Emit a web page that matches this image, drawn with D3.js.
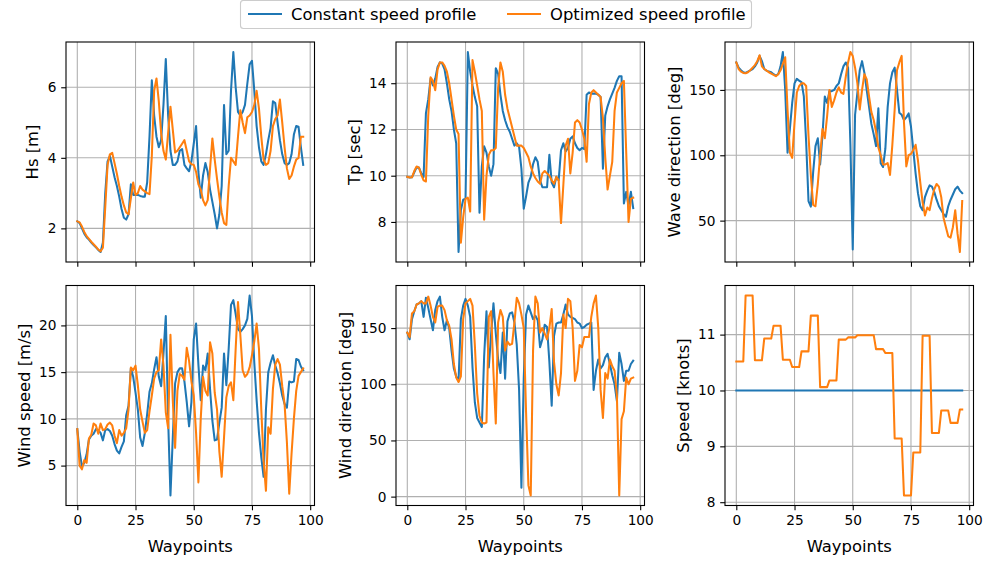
<!DOCTYPE html>
<html><head><meta charset="utf-8">
<script src="https://cdn.jsdelivr.net/npm/d3@7"></script>
<style>
body{margin:0;background:#fff;}
svg{display:block;font-family:"DejaVu Sans",sans-serif;}
</style></head><body>
<svg id="chart" width="987" height="561"></svg>
<script>
const xTickValues=[0,25,50,75,100];
const seriesNames=["Constant speed profile","Optimized speed profile"];
const seriesColors=["#1f77b4","#ff7f0e"];

const hsConst=[2.2,2.15,2.0,1.85,1.75,1.68,1.6,1.53,1.46,1.39,
1.33,1.6,3.0,3.9,4.05,3.75,3.45,3.2,2.9,2.55,
2.3,2.25,2.4,3.25,2.95,2.95,2.95,2.92,2.9,2.9,
3.3,4.6,6.2,5.2,4.6,4.3,4.5,5.5,6.8,5.2,
4.2,3.8,3.8,3.9,4.2,4.25,3.8,3.7,3.62,3.9,
4.4,4.9,3.6,2.87,3.5,3.85,3.6,3.1,2.75,2.4,
2.0,2.4,3.2,5.5,4.1,4.2,5.9,7.0,6.0,5.3,
5.2,5.3,5.5,6.1,6.65,6.75,5.9,4.9,4.3,3.9,
3.8,4.1,4.5,4.85,5.6,5.55,5.0,4.5,4.1,3.85,
3.8,3.85,4.1,4.66,4.9,4.88,4.3,3.8];
const hsOpt=[2.2,2.17,2.05,1.9,1.78,1.7,1.62,1.55,1.48,1.4,
1.35,1.45,2.6,3.8,4.1,4.14,3.85,3.55,3.2,2.9,
2.65,2.45,2.4,2.85,3.3,2.95,3.0,3.2,3.1,3.05,
3.0,2.97,4.05,5.9,6.25,5.6,4.7,4.2,3.95,4.7,
5.45,4.8,4.15,4.2,4.3,4.4,4.5,4.2,3.9,3.82,
3.8,3.6,3.25,3.1,2.8,2.65,2.8,3.7,4.55,3.95,
3.4,2.9,2.45,2.15,2.1,3.2,4.0,3.9,3.8,4.6,
5.35,5.0,4.7,5.15,5.2,5.3,5.5,5.9,5.4,4.6,
3.95,3.8,3.85,4.2,4.9,5.1,5.2,5.65,5.0,4.3,
3.7,3.4,3.5,3.75,3.95,4.0,4.6,4.6];

const tpConst=[9.95,9.92,9.93,10.15,10.36,10.35,10.1,9.95,12.7,13.3,
14.2,13.9,14.2,14.7,14.9,14.85,14.6,14.0,13.3,12.8,
12.0,11.4,6.7,8.5,8.96,9.0,15.35,14.5,13.9,13.4,
13.0,8.4,10.4,11.27,11.0,10.4,10.0,10.5,14.65,14.4,
13.5,12.8,12.4,12.1,11.9,11.6,11.3,11.4,11.25,10.3,
8.57,9.1,9.7,9.95,10.5,10.8,10.6,9.8,9.5,9.5,
9.5,10.9,9.7,9.5,9.95,9.8,11.1,11.4,11.05,11.2,
11.6,11.7,11.4,11.2,11.1,11.2,11.15,13.5,13.6,13.55,
13.55,13.55,13.5,13.4,10.3,12.6,13.0,13.3,13.55,13.8,
14.1,14.3,14.3,8.8,9.3,8.7,9.3,8.6];
const tpOpt=[9.95,9.92,9.93,10.2,10.4,10.35,10.05,9.8,9.75,12.6,
14.26,14.1,13.7,14.6,14.9,14.9,14.75,14.5,14.0,13.3,
12.6,12.0,11.8,7.1,8.2,9.0,9.05,8.45,15.0,14.5,
13.9,13.3,12.8,8.1,10.0,10.9,11.1,11.1,11.2,13.8,
14.9,14.5,13.5,12.9,12.5,12.1,11.7,11.3,11.3,11.3,
11.2,11.0,10.8,10.4,10.1,9.9,9.75,9.65,10.1,10.2,
10.1,10.0,9.8,9.65,9.95,9.8,7.95,9.6,11.3,11.6,
10.1,11.0,12.3,12.4,12.3,12.0,11.6,10.6,13.1,13.6,
13.7,13.6,13.5,13.4,12.5,10.8,9.4,10.0,10.6,12.8,
13.6,13.8,14.0,14.1,11.0,8.0,9.0,9.05];

const waveDirConst=[171,167,165,163.5,163,164,165,166,168,171,
176,172,166,164.8,164,163.5,162,161,162,168,
179,150,102,120,140,155,158.5,157,156,145,
110,65,60.7,87,107,113,93,115,145,140,
149,149,150,153,155,162,168,171,167,108,
28,131,148,165,172,163,150,137,124,116,
107,136,94,91,105,137,155,163.5,167,150,
132.5,131,127,129,132,122,104,86,71,61,
58,68,73,77,76,72,66,61,58,55,
53,61,66,70,74,76,73,71];
const waveDirOpt=[171,166,164,163,162.7,163.5,165,167,169,172,
176.5,168,166,164.8,163.5,162.5,161.5,160.5,162,165,
170,175,135,102,98,125,148,153,155,155,
153,115,85,62,61,78,100,120,113,130,
150,137,142,148,152,148,147,160,171,179,
176,167,155,135,150,162,158,145,133,127,
118,106,100,93,93,94,85,108,135,165,
171,176,125,91.5,100,101,104,108,96,79,
64,54,60,58,67,74,78,76,68,52,
45,38,37,45,58,40,26,65];

const windSpeedConst=[8.9,6.5,4.9,5.3,6.2,7.8,8.2,8.4,8.9,8.8,
8.5,7.7,8.8,8.9,8.7,8.2,7.3,6.6,6.3,7.0,
7.6,10.4,11.4,15.4,14.5,12.8,11.0,8.0,7.1,8.5,
10.5,12.9,13.8,15.3,16.6,14.5,13.5,17.0,21.0,10.0,
1.8,8.0,13.8,15.0,15.4,15.4,14.0,11.8,9.2,11.8,
18.5,20.2,15.8,12.0,15.7,15.2,17.0,13.2,9.8,7.7,
7.8,9.6,11.2,17.0,13.6,17.5,22.2,22.7,21.2,19.6,
19.3,19.6,20.0,20.7,23.2,21.0,16.0,12.0,8.5,5.9,
3.8,11.0,15.0,16.0,16.8,15.7,14.9,13.8,12.5,11.6,
11.2,14.0,13.9,14.0,16.4,16.3,15.6,15.2];
const windSpeedOpt=[8.9,5.0,4.6,5.6,5.3,7.9,8.3,9.5,9.3,8.4,
9.5,8.8,8.9,9.4,9.6,9.3,8.2,7.4,8.8,8.2,
8.5,9.0,11.0,15.5,15.2,15.7,13.6,11.0,9.7,8.5,
8.8,10.8,12.5,14.3,15.0,15.2,18.5,15.7,10.7,9.0,
19.0,12.0,6.9,13.0,14.8,14.6,14.2,17.6,16.2,14.0,
12.5,8.5,3.2,10.0,14.5,13.0,12.5,18.2,17.0,12.8,
11.0,6.5,3.8,8.0,12.3,13.5,13.9,12.0,17.5,22.5,
19.0,15.2,14.5,14.8,15.5,16.8,18.3,20.2,17.5,11.0,
5.5,2.3,9.1,8.4,13.2,15.8,16.4,15.8,13.5,11.6,
7.5,2.0,6.3,10.0,13.0,14.6,15.0,15.4];

const windDirConst=[146,140,158,165,171,172,174,160,177,168,
158,148,166,174,178,160,148,157,150,130,
114,107,103,158,170,176,170,160,115,84,
70,66,62,125,165,115,145,172,145,122,
110,146,105,156,163,164,155,135,95,8,
105,162,170,164,158,161,157,133,140,153,
151,120,81,143,154,155,155,162,171,162,
160,159,158,155,154,150,151,153,154,155,
95,112,122,114,117,124,127,118,108,100,
85,128,118,103,112,112,118,121];
const windDirOpt=[146,142,163,165,171,172,174,172,172,178,
170,160,155,169,170,170,166,157,152,140,
118,106,102,107,158,172,174,176,170,135,
92,72,66,65,66,160,165,110,65,155,
166,160,130,138,135,136,155,177,172,162,
150,75,10,1,130,178,172,146,150,145,
140,150,167,120,100,90,110,162,150,176,
174,150,103,112,135,133,142,142,142,160,
172,179,150,95,70,110,105,122,116,112,
90,1,69,76,106,100,105,106];

const speedConst=[10,10,10,10,10,10,10,10,10,10,
10,10,10,10,10,10,10,10,10,10,
10,10,10,10,10,10,10,10,10,10,
10,10,10,10,10,10,10,10,10,10,
10,10,10,10,10,10,10,10,10,10,
10,10,10,10,10,10,10,10,10,10,
10,10,10,10,10,10,10,10,10,10,
10,10,10,10,10,10,10,10,10,10,
10,10,10,10,10,10,10,10,10,10,
10,10,10,10,10,10,10,10];
const speedOpt=[10.52,10.52,10.52,10.52,11.7,11.7,11.7,11.7,10.54,10.54,
10.54,10.54,10.93,10.93,10.93,10.93,11.16,11.16,11.16,11.16,
10.55,10.55,10.55,10.55,10.42,10.42,10.42,10.42,10.7,10.7,
10.7,10.7,11.34,11.34,11.34,11.34,10.06,10.06,10.06,10.06,
10.18,10.18,10.18,10.18,10.91,10.91,10.91,10.91,10.95,10.95,
10.95,10.95,10.99,10.99,10.99,10.99,10.99,10.99,10.99,10.99,
10.74,10.74,10.74,10.74,10.67,10.67,10.67,10.67,9.14,9.14,
9.14,9.14,8.12,8.12,8.12,8.12,8.89,8.89,8.89,8.89,
10.98,10.98,10.98,10.98,9.24,9.24,9.24,9.24,9.64,9.64,
9.64,9.64,9.42,9.42,9.42,9.42,9.66,9.66];

const hsTicks=[2,4,6];
const tpTicks=[8,10,12,14];
const waveDirTicks=[50,100,150];
const windSpeedTicks=[5,10,15,20];
const windDirTicks=[0,50,100,150];
const speedTicks=[8,9,10,11];

const panels=[
 {label:"Hs [m]",series:[hsConst,hsOpt],ticks:hsTicks,row:0,col:0},
 {label:"Tp [sec]",series:[tpConst,tpOpt],ticks:tpTicks,row:0,col:1},
 {label:"Wave direction [deg]",series:[waveDirConst,waveDirOpt],ticks:waveDirTicks,row:0,col:2},
 {label:"Wind speed [m/s]",series:[windSpeedConst,windSpeedOpt],ticks:windSpeedTicks,row:1,col:0},
 {label:"Wind direction [deg]",series:[windDirConst,windDirOpt],ticks:windDirTicks,row:1,col:1},
 {label:"Speed [knots]",series:[speedConst,speedOpt],ticks:speedTicks,row:1,col:2}
];

const W=987,H=561;
const colLeft=[66,396,725], rowTop=[42,285.5], pw=248.5, ph=220;
const tickFont=13.7, labelFont=16.4;
const svg=d3.select("#chart");
svg.append("rect").attr("width",W).attr("height",H).attr("fill","#fff");

panels.forEach((p,pi)=>{
  const x0=colLeft[p.col], y0=rowTop[p.row];
  const g=svg.append("g").attr("transform",`translate(${x0},${y0})`);
  const n=p.series[0].length;
  const x=d3.scaleLinear().domain([-(n-1)*0.05,(n-1)*1.05]).range([0,pw]);
  const all=p.series[0].concat(p.series[1]);
  const mn=d3.min(all), mx=d3.max(all), r=mx-mn;
  const y=d3.scaleLinear().domain([mn-0.05*r,mx+0.05*r]).range([ph,0]);

  // grid
  g.append("g").selectAll("line").data(xTickValues).join("line")
    .attr("x1",d=>x(d)).attr("x2",d=>x(d)).attr("y1",0).attr("y2",ph)
    .attr("stroke","#b0b0b0").attr("stroke-width",1.1);
  g.append("g").selectAll("line").data(p.ticks).join("line")
    .attr("x1",0).attr("x2",pw).attr("y1",d=>y(d)).attr("y2",d=>y(d))
    .attr("stroke","#b0b0b0").attr("stroke-width",1.1);

  // clip
  const cid="clip"+pi;
  g.append("clipPath").attr("id",cid).append("rect").attr("width",pw).attr("height",ph);

  const line=d3.line().x((d,i)=>x(i)).y(d=>y(d));
  p.series.forEach((s,si)=>{
    g.append("path").datum(s).attr("d",line)
     .attr("fill","none").attr("stroke",seriesColors[si])
     .attr("stroke-width",2.05).attr("stroke-linejoin","round").attr("stroke-linecap","square")
     .attr("clip-path",`url(#${cid})`);
  });

  // axes
  const xAxis=d3.axisBottom(x).tickValues(xTickValues).tickSize(4.8).tickPadding(4.8)
     .tickFormat(p.row===1?d3.format("d"):()=>"");
  const gx=g.append("g").attr("transform",`translate(0,${ph})`).call(xAxis);
  const yAxis=d3.axisLeft(y).tickValues(p.ticks).tickSize(4.8).tickPadding(4.8).tickFormat(d3.format("d"));
  const gy=g.append("g").call(yAxis);
  [gx,gy].forEach(a=>{
    a.select(".domain").remove();
    a.selectAll(".tick line").attr("stroke","#000").attr("stroke-width",1.1);
    a.selectAll(".tick text").attr("fill","#000").attr("font-size",tickFont).attr("font-family","DejaVu Sans");
  });
  const bb=gy.node().getBBox();
  g.append("rect").attr("width",pw).attr("height",ph).attr("fill","none")
    .attr("stroke","#000").attr("stroke-width",1.1);

  const lx=bb.x-5.5-3.9;
  g.append("text").attr("transform",`translate(${lx},${ph/2}) rotate(-90)`)
    .attr("text-anchor","middle").attr("font-size",labelFont).attr("fill","#000")
    .text(p.label);
  if(p.row===1){
    g.append("text").attr("x",pw/2).attr("y",ph+46).attr("text-anchor","middle")
     .attr("font-size",labelFont).attr("fill","#000").text("Waypoints");
  }
});

// legend
const lg=svg.append("g");
lg.append("rect").attr("x",240.5).attr("y",0.5).attr("width",511).attr("height",28)
  .attr("rx",3).attr("fill","#fff").attr("stroke","#cccccc").attr("stroke-width",1.1);
const legendPos=[{lx:248,tx:291},{lx:507,tx:550}];
seriesNames.forEach((nm,i)=>{
  lg.append("line").attr("x1",legendPos[i].lx).attr("x2",legendPos[i].lx+34)
    .attr("y1",14).attr("y2",14).attr("stroke",seriesColors[i]).attr("stroke-width",2.05);
  lg.append("text").attr("x",legendPos[i].tx).attr("y",20).attr("font-size",labelFont)
    .attr("fill","#000").text(nm);
});
</script>
</body></html>
